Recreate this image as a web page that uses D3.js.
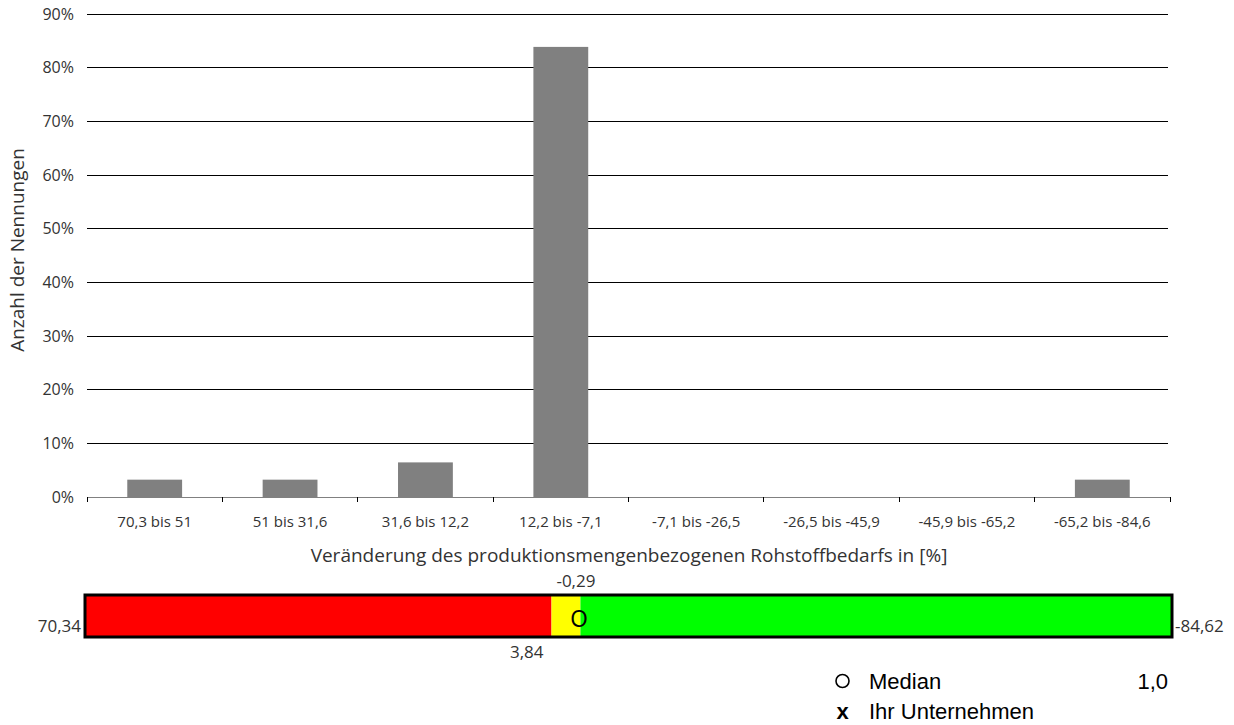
<!DOCTYPE html>
<html><head><meta charset="utf-8">
<script src="https://cdn.jsdelivr.net/npm/d3@7/dist/d3.min.js"></script>
<style>body{margin:0;background:#fff;overflow:hidden}svg{display:block}</style>
</head><body>
<script>
const categories = ["70,3 bis 51","51 bis 31,6","31,6 bis 12,2","12,2 bis -7,1","-7,1 bis -26,5","-26,5 bis -45,9","-45,9 bis -65,2","-65,2 bis -84,6"];
const values = [3.23, 3.23, 6.45, 83.87, 0, 0, 0, 3.23];
const yTicks = [0,10,20,30,40,50,60,70,80,90];
const rangeMin = 70.34, rangeMax = -84.62;
const zoneBounds = [3.84, -0.29];
const zoneLabels = ["3,84", "-0,29"];
const medianValue = 1.0;
const legendItems = [{sym:"O", label:"Median", value:"1,0"},{sym:"x", label:"Ihr Unternehmen", value:""}];

const W = 1234, H = 725;
const svg = d3.select("body").append("svg").attr("width", W).attr("height", H);
const font = "'Open Sans', sans-serif";
const arial = "'Liberation Sans', Arial, sans-serif";
const L = 87, R = 1170, T = 14, B = 497;

const x = d3.scaleBand().domain(categories).range([L, R]).paddingInner(0.595).paddingOuter(0.2975);
const xb = d3.scaleBand().domain(categories).range([L, R]);
const y = d3.scaleLinear().domain([0, 90]).range([B, T]);

// gridlines
svg.append("g").selectAll("line").data(yTicks.filter(d => d > 0)).join("line")
  .attr("x1", L).attr("x2", R - 2).attr("y1", d => y(d)).attr("y2", d => y(d))
  .attr("stroke", "#000").attr("stroke-width", 1).attr("shape-rendering", "crispEdges");

// y labels
svg.append("g").selectAll("text").data(yTicks).join("text")
  .attr("x", 74).attr("y", d => y(d)).attr("dy", "0.36em").attr("text-anchor", "end")
  .attr("font-family", font).attr("font-size", 16).attr("fill", "#333")
  .text(d => d + "%");

// bars
svg.append("g").selectAll("rect").data(values.map((v, i) => ({c: categories[i], v}))).join("rect")
  .attr("x", d => x(d.c)).attr("width", x.bandwidth())
  .attr("y", d => y(d.v)).attr("height", d => B - y(d.v))
  .attr("fill", "#808080");

// baseline
svg.append("line").attr("x1", L).attr("x2", R).attr("y1", B).attr("y2", B)
  .attr("stroke", "#808080").attr("stroke-width", 1).attr("shape-rendering", "crispEdges");
const tickPos = categories.map(c => xb(c)).concat([R]);
svg.append("g").selectAll("line").data(tickPos).join("line")
  .attr("x1", d => d).attr("x2", d => d).attr("y1", B).attr("y2", B + 5)
  .attr("stroke", "#000").attr("shape-rendering", "crispEdges");

// x labels
svg.append("g").selectAll("text").data(categories).join("text")
  .attr("x", d => xb(d) + xb.bandwidth() / 2).attr("y", 527)
  .attr("text-anchor", "middle").attr("font-family", font).attr("font-size", 15).attr("fill", "#333")
  .text(d => d);

// axis titles
svg.append("text").attr("x", (L + R) / 2 + 0.5).attr("y", 562).attr("text-anchor", "middle")
  .attr("font-family", font).attr("font-size", 19).attr("fill", "#333")
  .text("Veränderung des produktionsmengenbezogenen Rohstoffbedarfs in [%]");
svg.append("text").attr("transform", "translate(24,250) rotate(-90)").attr("text-anchor", "middle")
  .attr("font-family", font).attr("font-size", 19).attr("fill", "#333")
  .text("Anzahl der Nennungen");

// range bar
const bx0 = 85, bx1 = 1172, by0 = 595, by1 = 637;
const s = d3.scaleLinear().domain([rangeMin, rangeMax]).range([bx0, bx1]);
const zones = [
  {a: rangeMin, b: zoneBounds[0], c: "#ff0000"},
  {a: zoneBounds[0], b: zoneBounds[1], c: "#ffff00"},
  {a: zoneBounds[1], b: rangeMax, c: "#00ff00"}
];
svg.append("g").selectAll("rect").data(zones).join("rect")
  .attr("x", d => s(d.a)).attr("width", d => s(d.b) - s(d.a))
  .attr("y", by0).attr("height", by1 - by0).attr("fill", d => d.c);
svg.append("rect").attr("x", bx0).attr("y", by0).attr("width", bx1 - bx0).attr("height", by1 - by0)
  .attr("fill", "none").attr("stroke", "#000").attr("stroke-width", 3);

const fmt = v => d3.format(".2f")(v).replace(".", ",").replace("\u2212", "-");
svg.append("text").attr("x", bx0 - 4).attr("y", 632).attr("text-anchor", "end")
  .attr("font-family", font).attr("font-size", 17).attr("fill", "#333").text(fmt(rangeMin));
svg.append("text").attr("x", bx1 + 3).attr("y", 632).attr("text-anchor", "start")
  .attr("font-family", font).attr("font-size", 17).attr("fill", "#333").text(fmt(rangeMax));
svg.append("text").attr("x", s(zoneBounds[0]) - 8).attr("y", 658).attr("text-anchor", "end")
  .attr("font-family", font).attr("font-size", 17).attr("fill", "#333").text(zoneLabels[0]);
svg.append("text").attr("x", s(zoneBounds[1]) + 15).attr("y", 587).attr("text-anchor", "end")
  .attr("font-family", font).attr("font-size", 17).attr("fill", "#333").text(zoneLabels[1]);

// median marker
svg.append("text").attr("x", s(medianValue) - 1).attr("y", 627).attr("text-anchor", "start")
  .attr("font-family", arial).attr("font-size", 22).attr("fill", "#000")
  .attr("transform", `translate(0,${-627 * 0.12}) scale(1,1.12)`).text("O");

// legend
const rowY = [689, 719];
const lg = svg.append("g").selectAll("g").data(legendItems).join("g")
  .attr("transform", (d, i) => `translate(0,${rowY[i]})`);
lg.filter(d => d.sym === "O").append("circle").attr("cx", 842.5).attr("cy", -8).attr("r", 6.5)
  .attr("fill", "none").attr("stroke", "#000").attr("stroke-width", 1.6);
lg.filter(d => d.sym === "x").append("text").attr("x", 842.5).attr("text-anchor", "middle")
  .attr("font-family", arial).attr("font-size", 22).attr("font-weight", "bold").attr("fill", "#000").text(d => d.sym);
lg.append("text").attr("x", 869)
  .attr("font-family", arial).attr("font-size", 22).attr("fill", "#000").text(d => d.label);
lg.append("text").attr("x", 1168).attr("text-anchor", "end")
  .attr("font-family", arial).attr("font-size", 22).attr("fill", "#000").text(d => d.value);
</script>
</body></html>
